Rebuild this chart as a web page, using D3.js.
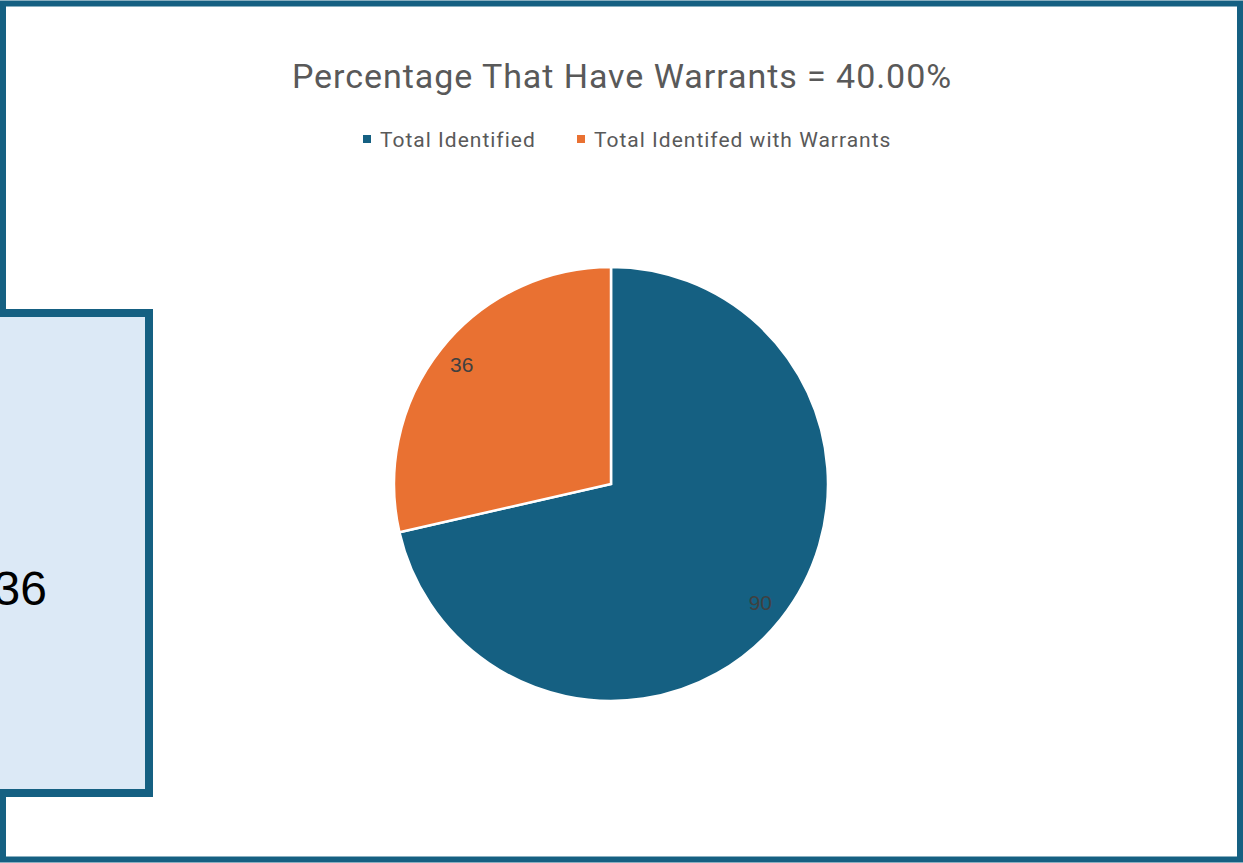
<!DOCTYPE html>
<html>
<head>
<meta charset="utf-8">
<script src="https://cdn.jsdelivr.net/npm/d3@7"></script>
<style>
  html, body { margin: 0; padding: 0; background: #fff; }
  svg { display: block; }
  text { font-family: Roboto, "Noto Sans", sans-serif; }
</style>
</head>
<body>
<div id="chart"></div>
<script>
const w = 1243;
const h = 863;

// data
const categories = ["Total Identified", "Total Identifed with Warrants"];
const values = [90, 36];
const colorsList = ["#156082", "#E97132"];
const title = "Percentage That Have Warrants = 40.00%";
const boxValue = 36;

const frame = "#156082";

const svg = d3.select("#chart").append("svg")
    .attr("width", w)
    .attr("height", h);

// outer frame
svg.append("rect")
    .attr("x", 3).attr("y", 3.5)
    .attr("width", w - 6).attr("height", h - 7)
    .attr("fill", "#fff")
    .attr("stroke", frame)
    .attr("stroke-width", 6);

// title
svg.append("text")
    .attr("x", 622)
    .attr("y", 88)
    .attr("text-anchor", "middle")
    .attr("fill", "#595959")
    .style("font-size", "34px")
    .style("letter-spacing", "0.95px")
    .text(title);

// legend
const color = d3.scaleOrdinal().domain(categories).range(colorsList);
const legendX = [363, 577];
const legend = svg.append("g").selectAll("g")
    .data(categories)
    .enter().append("g")
    .attr("transform", (d, i) => `translate(${legendX[i]}, 135)`);

legend.append("rect")
    .attr("width", 8).attr("height", 8)
    .attr("fill", d => color(d));

legend.append("text")
    .attr("x", 17)
    .attr("y", 12)
    .attr("fill", "#595959")
    .style("font-size", "21px")
    .style("letter-spacing", "1px")
    .text(d => d);

// pie
const cx = 611, cy = 484, r = 217;
const pie = d3.pie().sort(null).value(d => d.value);
const arcs = pie(categories.map((c, i) => ({ name: c, value: values[i] })));
const arc = d3.arc().innerRadius(0).outerRadius(r);
const labelArc = d3.arc().innerRadius(191).outerRadius(191);

const g = svg.append("g").attr("transform", `translate(${cx}, ${cy})`);

g.selectAll("path")
    .data(arcs)
    .enter().append("path")
    .attr("d", arc)
    .attr("fill", d => color(d.data.name))
    .attr("stroke", "#fff")
    .attr("stroke-width", 2.5)
    .attr("stroke-linejoin", "miter");

g.selectAll("text.lbl")
    .data(arcs)
    .enter().append("text")
    .attr("class", "lbl")
    .attr("transform", d => `translate(${labelArc.centroid(d)})`)
    .attr("text-anchor", "middle")
    .attr("dy", "0.35em")
    .attr("fill", "#404040")
    .style("font-family", "'Liberation Sans', Arial, sans-serif")
    .style("font-size", "21px")
    .text(d => d.data.value);

// overlapping value box at left
svg.append("rect")
    .attr("x", -20).attr("y", 313)
    .attr("width", 169).attr("height", 480)
    .attr("fill", "#dce9f6")
    .attr("stroke", frame)
    .attr("stroke-width", 8);

svg.append("text")
    .attr("x", 47)
    .attr("y", 605)
    .attr("text-anchor", "end")
    .attr("fill", "#000")
    .style("font-family", "'Liberation Sans', Arial, sans-serif")
    .style("font-size", "48px")
    .text(boxValue);
</script>
</body>
</html>
